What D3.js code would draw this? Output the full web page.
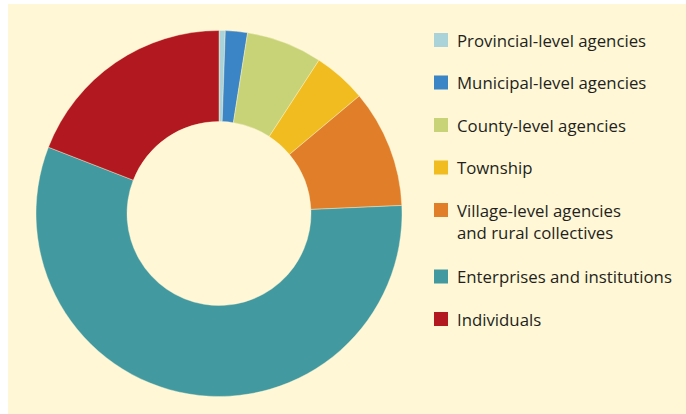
<!DOCTYPE html>
<html>
<head>
<meta charset="utf-8">
<script src="https://cdn.jsdelivr.net/npm/d3@7"></script>
<style>
  body { margin: 0; background: #fff; }
  svg text { font-family: "Open Sans", sans-serif; fill: #231f20; }
</style>
</head>
<body>
<svg id="chart" width="686" height="414"></svg>
<script>
// share of each group, percent, clockwise from 12 o'clock
var categories = ["Provincial-level agencies", "Municipal-level agencies", "County-level agencies",
                  "Township", "Village-level agencies\nand rural collectives",
                  "Enterprises and institutions", "Individuals"];
var shares = [0.55, 1.95, 6.7, 4.7, 10.4, 56.6, 19.1];
var colors = ["#a9d3d9", "#3b84c6", "#c8d377", "#f0bc1f", "#e07e29", "#429aa0", "#b2181f"];

var svg = d3.select("#chart");

svg.append("rect")
  .attr("x", 8).attr("y", 4)
  .attr("width", 678).attr("height", 410)
  .attr("fill", "#fff7d6");

var data = categories.map((c, i) => ({name: c, value: shares[i], color: colors[i]}));

var pie = d3.pie().value(d => d.value).sort(null);
var arc = d3.arc().innerRadius(92).outerRadius(183);

svg.append("g")
  .attr("transform", "translate(219,213.5)")
  .selectAll("path")
  .data(pie(data))
  .enter()
  .append("path")
  .attr("d", arc)
  .attr("fill", d => d.data.color)
  .attr("stroke", "#fff7d6")
  .attr("stroke-width", 0.4);

// legend, the village entry wraps onto two lines
var legend = svg.append("g").attr("transform", "translate(434,33)");
var y = 0;
data.forEach(d => {
  var lines = d.name.split("\n");
  var row = legend.append("g").attr("transform", "translate(0," + y + ")");
  row.append("rect")
    .attr("width", 14).attr("height", 14)
    .attr("fill", d.color);
  row.append("text")
    .attr("x", 23)
    .attr("y", 13.5)
    .style("font-size", "16.8px")
    .selectAll("tspan")
    .data(lines)
    .enter()
    .append("tspan")
    .attr("x", 23)
    .attr("dy", (l, i) => i ? 22.5 : 0)
    .text(l => l);
  y += 42.5 + (lines.length - 1) * 24;
});
</script>
</body>
</html>
